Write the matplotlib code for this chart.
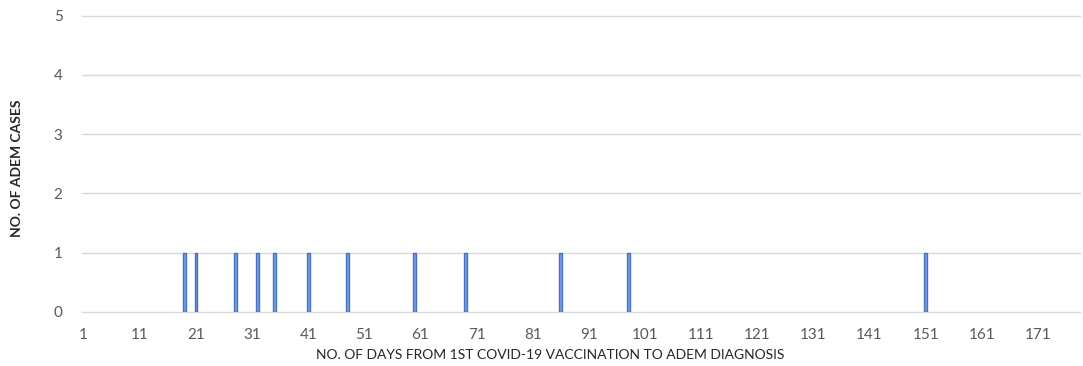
import matplotlib
matplotlib.use("Agg")
import matplotlib.pyplot as plt

plt.rcParams['font.family'] = ['Lato', 'DejaVu Sans']

# days from first dose to diagnosis, one case each
case_days = [19, 21, 28, 32, 35, 41, 48, 60, 69, 86, 98, 151]
case_counts = [1, 1, 1, 1, 1, 1, 1, 1, 1, 1, 1, 1]
n_days = 178
tick_days = list(range(1, 172, 10))
y_ticks = [0, 1, 2, 3, 4, 5]

fig = plt.figure(figsize=(10.83, 3.66), dpi=100)
ax = fig.add_axes([82 / 1083, 1 - 311.7 / 366, 998 / 1083, 296 / 366])

# only days with cases get a bar (empty days would draw flat outlines)
ax.bar(case_days, case_counts, width=0.5, color='#7b9fdc', edgecolor='#4472C4',
       linewidth=1.0, zorder=3)

ax.set_xlim(0.7, n_days + 0.5)
ax.set_ylim(0, 5)
ax.set_xticks(tick_days)
ax.set_xticklabels([str(t) for t in tick_days])
ax.set_yticks(y_ticks)
# horizontal grid, drawn unclipped so the lines at 0 and 5 are full width
for yv in y_ticks:
    ax.axhline(yv, color='#d9d9d9', linewidth=1, zorder=1, clip_on=False)
for s in ax.spines.values():
    s.set_visible(False)
ax.tick_params(length=0, labelsize=11, labelcolor='#595959')
ax.tick_params(axis='y', pad=14)
ax.tick_params(axis='x', pad=12)

fig.text(550 / 1083, 1 - 355 / 366, 'NO. OF DAYS FROM 1ST COVID-19 VACCINATION TO ADEM DIAGNOSIS',
         ha='center', va='center', fontsize=10, color='#262626')
fig.text(17 / 1083, 1 - 168 / 366, 'NO. OF ADEM CASES', rotation=90,
         ha='center', va='center', fontsize=10, color='#262626', fontweight='bold')

fig.savefig('out.png', dpi=100)
